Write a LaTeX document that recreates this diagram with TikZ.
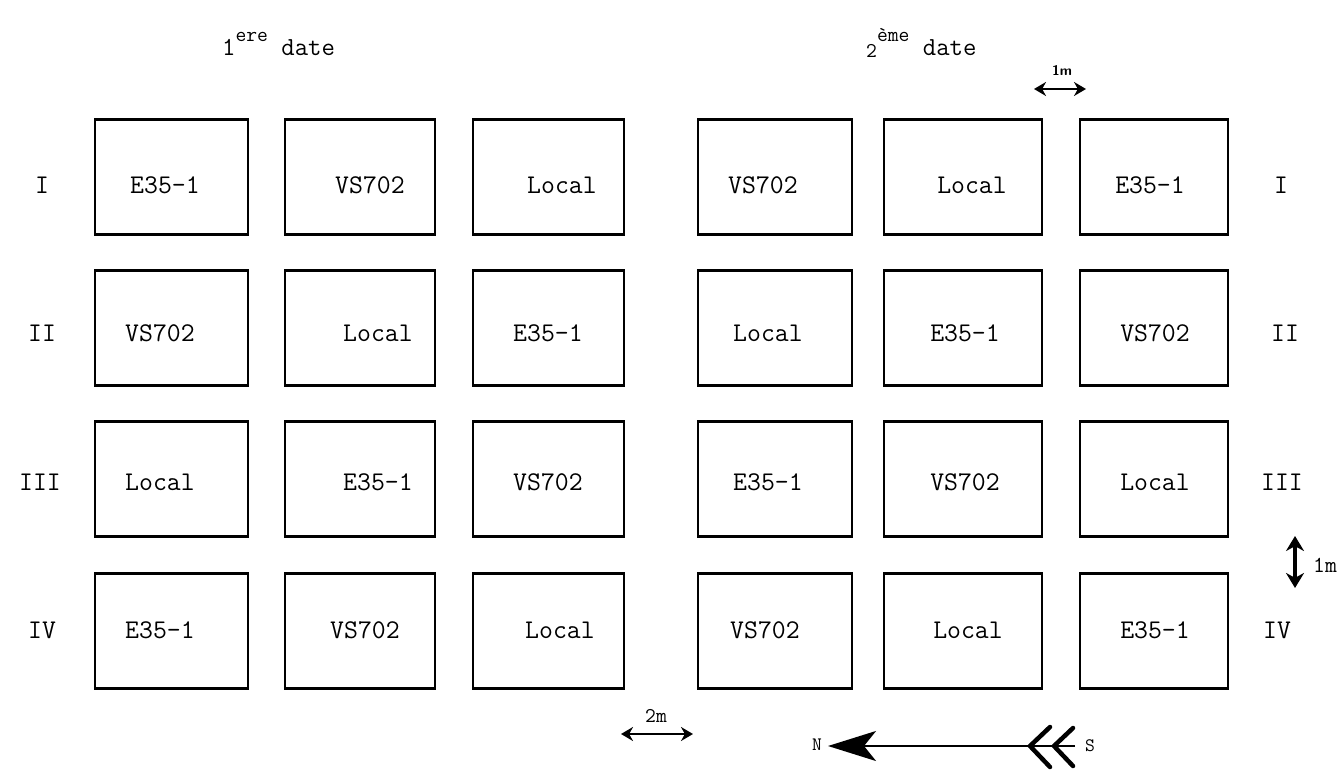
\documentclass[tikz,border=0pt]{standalone}
\usetikzlibrary{arrows.meta}
\begin{document}
\begin{tikzpicture}[x=1pt,y=-1pt,
  plotbox/.style={draw, line width=2.8pt, minimum height=115pt, inner sep=0pt},
  lbl/.style={font=\ttfamily\fontsize{27}{32}\selectfont, inner sep=0pt},
  rom/.style={font=\ttfamily\fontsize{27}{32}\selectfont, inner sep=0pt},
  ttl/.style={font=\ttfamily\fontsize{26}{30}\selectfont, inner sep=0pt, anchor=base west},
  scalebar/.style={line width=2.4pt, {Stealth[length=12pt,width=14pt]}-{Stealth[length=12pt,width=14pt]}}]
\useasboundingbox (0,0) rectangle (1343,778);
% titles
\node[ttl] (t1) at (222,56) {1\raisebox{0.55em}{\fontsize{21}{23}\selectfont ere} date};
\node[ttl] (t2) at (866,56) {\raisebox{-0.05em}{\fontsize{21}{23}\selectfont 2}\raisebox{0.55em}{\fontsize{21}{23}\selectfont ème} date};
% boxes
\foreach \r/\y in {1/177,2/328,3/479,4/631}{
  \node[plotbox, minimum width=153pt] (a\r) at (171.5,\y) {};
  \node[plotbox, minimum width=150pt] (b\r) at (360,\y) {};
  \node[plotbox, minimum width=151pt] (c\r) at (548.5,\y) {};
  \node[plotbox, minimum width=154pt] (d\r) at (775,\y) {};
  \node[plotbox, minimum width=158pt] (e\r) at (963,\y) {};
  \node[plotbox, minimum width=148pt] (f\r) at (1154,\y) {};
}
% row I
\node[rom] (rl1) at (42,185) {I};
\node[lbl] (la1) at (165,185) {E35-1};
\node[lbl] (lb1) at (370,185) {VS702};
\node[lbl] (lc1) at (562,185) {Local};
\node[lbl] (ld1) at (763,185) {VS702};
\node[lbl] (le1) at (972,185) {Local};
\node[lbl] (lf1) at (1150,185) {E35-1};
\node[rom] (rr1) at (1281,185) {I};
% row II
\node[rom] (rl2) at (42,333) {II};
\node[lbl] (la2) at (160,333) {VS702};
\node[lbl] (lb2) at (378,333) {Local};
\node[lbl] (lc2) at (548,333) {E35-1};
\node[lbl] (ld2) at (768,333) {Local};
\node[lbl] (le2) at (965,333) {E35-1};
\node[lbl] (lf2) at (1155,333) {VS702};
\node[rom] (rr2) at (1285,333) {II};
% row III
\node[rom] (rl3) at (40,482) {III};
\node[lbl] (la3) at (160,482) {Local};
\node[lbl] (lb3) at (378,482) {E35-1};
\node[lbl] (lc3) at (548,482) {VS702};
\node[lbl] (ld3) at (768,482) {E35-1};
\node[lbl] (le3) at (965,482) {VS702};
\node[lbl] (lf3) at (1155,482) {Local};
\node[rom] (rr3) at (1282,482) {III};
% row IV
\node[rom] (rl4) at (42,630) {IV};
\node[lbl] (la4) at (160,630) {E35-1};
\node[lbl] (lb4) at (365,630) {VS702};
\node[lbl] (lc4) at (560,630) {Local};
\node[lbl] (ld4) at (765,630) {VS702};
\node[lbl] (le4) at (968,630) {Local};
\node[lbl] (lf4) at (1155,630) {E35-1};
\node[rom] (rr4) at (1277,630) {IV};
% 1m horizontal scale
\coordinate (h1a) at (1034,89);
\coordinate (h1b) at (1086,89);
\draw[scalebar] (h1a) -- (h1b);
\node[font=\bfseries\sffamily\fontsize{14}{16}\selectfont, inner sep=0pt] (h1t) at (1062,70) {1m};
% 1m vertical scale
\coordinate (v1a) at (1295,536);
\coordinate (v1b) at (1295,588);
\draw[line width=3.8pt, {Stealth[length=15pt,width=18pt]}-{Stealth[length=15pt,width=18pt]}] (v1a) -- (v1b);
\node[font=\ttfamily\fontsize{23}{26}\selectfont, inner sep=0pt] (v1t) at (1325,565) {1m};
% 2m scale
\coordinate (s2a) at (621,734);
\coordinate (s2b) at (693,734);
\draw[scalebar] (s2a) -- (s2b);
\node[font=\ttfamily\fontsize{21}{24}\selectfont, inner sep=0pt] (s2t) at (656,716) {2m};
% north arrow
\node[font=\ttfamily\fontsize{19}{22}\selectfont, inner sep=0pt] (nN) at (817,745) {N};
\node[font=\ttfamily\fontsize{19}{22}\selectfont, inner sep=0pt] (nS) at (1090,746) {S};
\coordinate (ntail) at (1075,746);
\coordinate (nhead) at (828,746);
\draw[line width=2pt, -{Stealth[length=48pt,width=30pt,inset=12pt]}] (ntail) -- (nhead);
\coordinate (f1) at (1030,746);
\coordinate (f2) at (1054,746);
\draw[line width=4.5pt, line cap=round] (1050,727) -- (f1) -- (1050,767);
\draw[line width=4.5pt, line cap=round] (1073,728) -- (f2) -- (1073,766);
\end{tikzpicture}
\end{document}
